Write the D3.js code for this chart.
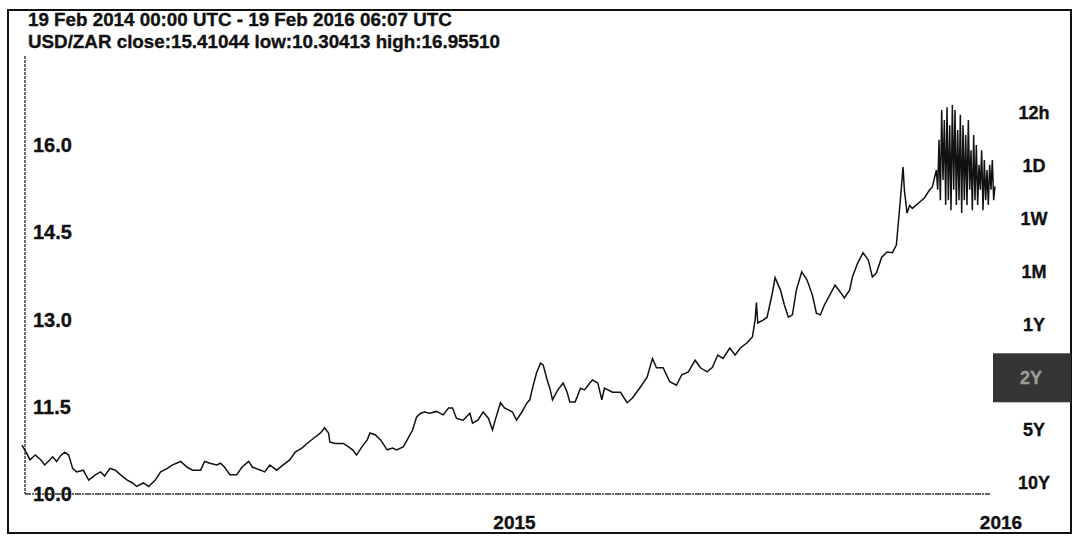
<!DOCTYPE html>
<html>
<head>
<meta charset="utf-8">
<script src="https://cdn.jsdelivr.net/npm/d3@7"></script>
<style>
  html, body { margin: 0; padding: 0; background: #ffffff; }
  svg { display: block; }
  text { font-family: "Liberation Sans", Arial, sans-serif; font-weight: bold; fill: #111; stroke: #111; stroke-width: 0.35px; }
</style>
</head>
<body>
<svg id="chart" width="1076" height="537"></svg>
<script>
// ---- data ----
const headerLines = [
  "19 Feb 2014 00:00 UTC - 19 Feb 2016 06:07 UTC",
  "USD/ZAR close:15.41044 low:10.30413 high:16.95510"
];
const startDate = "2014-02-19";
const endDate = "2016-02-19";
// days since 19 Feb 2014
const dayOffsets = [
  0,3,6,10,14,17,21,23,26,29,32,35,38,41,46,50,55,59,62,66,70,74,79,83,86,91,95,100,104,109,113,119,124,128,134,137,141,146,
  149,152,156,161,165,170,173,179,182,186,191,196,201,205,210,215,220,224,227,230,231,235,241,245,248,251,255,259,261,265,269,274,278,281,286,289,293,296,299,
  302,306,311,316,320,323,326,331,336,338,342,346,350,353,355,359,362,368,371,375,379,381,383,386,389,391,394,396,398,402,406,409,411,415,419,422,426,428,432,435,437,443,447,
  449,454,458,464,469,473,476,481,486,491,495,500,505,509,514,518,522,526,531,535,539,544,548,550,551,552,556,559,563,565,569,572,575,578,581,585,589,593,596,599,
  602,606,610,614,617,621,623,627,631,635,638,641,645,649,653,656,659,661,662,664,666,668,674,677,681,683,
  686,687,688,689,690,691,692,693,694,695,696,697,698,699,700,701,702,703,704,705,706,707,708,709,710,711,712,713,714,715,716,717,718,719,720,721,722,723,724,725,726,727,728,729,730
];
const rates = [
  10.96,10.84,10.71,10.79,10.71,10.62,10.71,10.76,10.68,10.78,10.84,10.79,10.56,10.50,10.53,10.36,10.45,10.50,10.43,10.56,10.53,10.45,10.36,10.31,10.25,10.31,10.25,10.36,10.50,10.56,10.62,10.68,10.58,10.53,10.53,10.68,10.65,10.62,
  10.65,10.58,10.45,10.45,10.58,10.68,10.58,10.53,10.50,10.62,10.53,10.62,10.71,10.84,10.91,11.01,11.10,11.17,11.26,11.17,11.01,10.99,10.99,10.93,10.88,10.79,10.93,11.05,11.17,11.14,11.05,10.88,10.91,10.88,10.93,11.05,11.22,11.44,11.51,
  11.53,11.51,11.54,11.48,11.60,11.60,11.42,11.39,11.51,11.34,11.39,11.53,11.42,11.22,11.39,11.69,11.60,11.53,11.39,11.53,11.69,11.74,11.94,12.20,12.37,12.34,12.08,11.94,11.74,11.91,12.03,11.87,11.70,11.70,11.94,11.91,12.03,12.08,12.03,11.74,11.94,11.87,11.87,
  11.87,11.69,11.77,11.96,12.13,12.45,12.29,12.29,12.05,11.99,12.17,12.22,12.42,12.29,12.22,12.30,12.51,12.45,12.63,12.51,12.63,12.72,12.82,13.11,13.41,13.06,13.11,13.16,13.58,13.84,13.63,13.37,13.16,13.20,13.63,13.94,13.80,13.54,13.23,13.20,
  13.37,13.54,13.71,13.59,13.49,13.63,13.85,14.09,14.27,14.14,13.85,13.92,14.19,14.28,14.27,14.40,15.18,15.74,15.35,14.95,15.08,15.03,15.15,15.21,15.35,15.40,
  15.69,15.35,16.21,15.17,16.72,15.52,16.55,15.09,16.77,15.17,16.46,15.00,16.81,15.35,16.72,15.09,16.38,15.17,16.64,14.95,16.46,15.17,16.29,15.09,16.55,15.35,16.03,15.00,16.29,15.17,16.12,15.09,15.78,15.35,16.03,15.00,15.86,15.17,15.69,15.09,15.78,15.35,15.86,15.17,15.41
];
const yTicks = [10.0, 11.5, 13.0, 14.5, 16.0];
const xTickDates = ["2015-02-19", "2016-02-19"];
const xTickLabels = ["2015", "2016"];
const rangeButtons = ["12h", "1D", "1W", "1M", "1Y", "2Y", "5Y", "10Y"];
const selectedRange = "2Y";

// ---- drawing ----
const svg = d3.select("#chart");
const parse = d3.utcParse("%Y-%m-%d");
const t0 = parse(startDate), t1 = parse(endDate);
const series = dayOffsets.map((d, i) => ({ date: d3.utcDay.offset(t0, d), v: rates[i] }));

const x = d3.scaleUtc().domain([t0, t1]).range([22, 995]);
const y = d3.scaleLinear().domain([10, 16]).range([501, 152]);

// outer frame
svg.append("rect").attr("x", 8).attr("y", 10).attr("width", 1063).attr("height", 523)
  .attr("fill", "none").attr("stroke", "#111").attr("stroke-width", 2);

// header
svg.selectAll("text.hdr").data(headerLines).join("text").attr("class", "hdr")
  .attr("x", 28).attr("y", (d, i) => 26 + i * 22)
  .style("font-size", "18.8px").text(d => d);

// y axis (dotted) and bottom axis (dashed)
svg.append("line").attr("x1", 25).attr("x2", 25).attr("y1", 56).attr("y2", 494)
  .attr("stroke", "#222").attr("stroke-width", 1.3).attr("stroke-dasharray", "3,1");
svg.append("line").attr("x1", 25).attr("x2", 990).attr("y1", 494).attr("y2", 494)
  .attr("stroke", "#333").attr("stroke-width", 1.3).attr("stroke-dasharray", "6,1,2,1");

// y tick labels
svg.selectAll("text.ylab").data(yTicks).join("text").attr("class", "ylab")
  .attr("x", 33).attr("y", d => y(d))
  .style("font-size", "20px").text(d => d3.format(".1f")(d));

// x tick labels
svg.selectAll("text.xlab").data(xTickDates).join("text").attr("class", "xlab")
  .attr("x", d => x(parse(d)) + 6).attr("y", 529).attr("text-anchor", "middle")
  .style("font-size", "19px").text((d, i) => xTickLabels[i]);

// range buttons
const by = d3.scalePoint().domain(rangeButtons).range([113, 483]);
svg.append("rect").attr("x", 993).attr("y", by(selectedRange) - 24).attr("width", 78).attr("height", 49)
  .attr("fill", "#353535");
svg.selectAll("text.btn").data(rangeButtons).join("text").attr("class", "btn")
  .attr("x", d => d === selectedRange ? 1031 : 1034).attr("y", d => by(d))
  .attr("dy", "0.35em").attr("text-anchor", "middle")
  .style("font-size", "18px")
  .style("fill", d => d === selectedRange ? "#9c9c9c" : "#111")
  .style("stroke", d => d === selectedRange ? "#9c9c9c" : "#111")
  .text(d => d);

// price line
const line = d3.line().x(d => x(d.date)).y(d => y(d.v));
svg.append("path").datum(series).attr("d", line)
  .attr("fill", "none").attr("stroke", "#111").attr("stroke-width", 1.5)
  .attr("stroke-linejoin", "miter");
</script>
</body>
</html>
